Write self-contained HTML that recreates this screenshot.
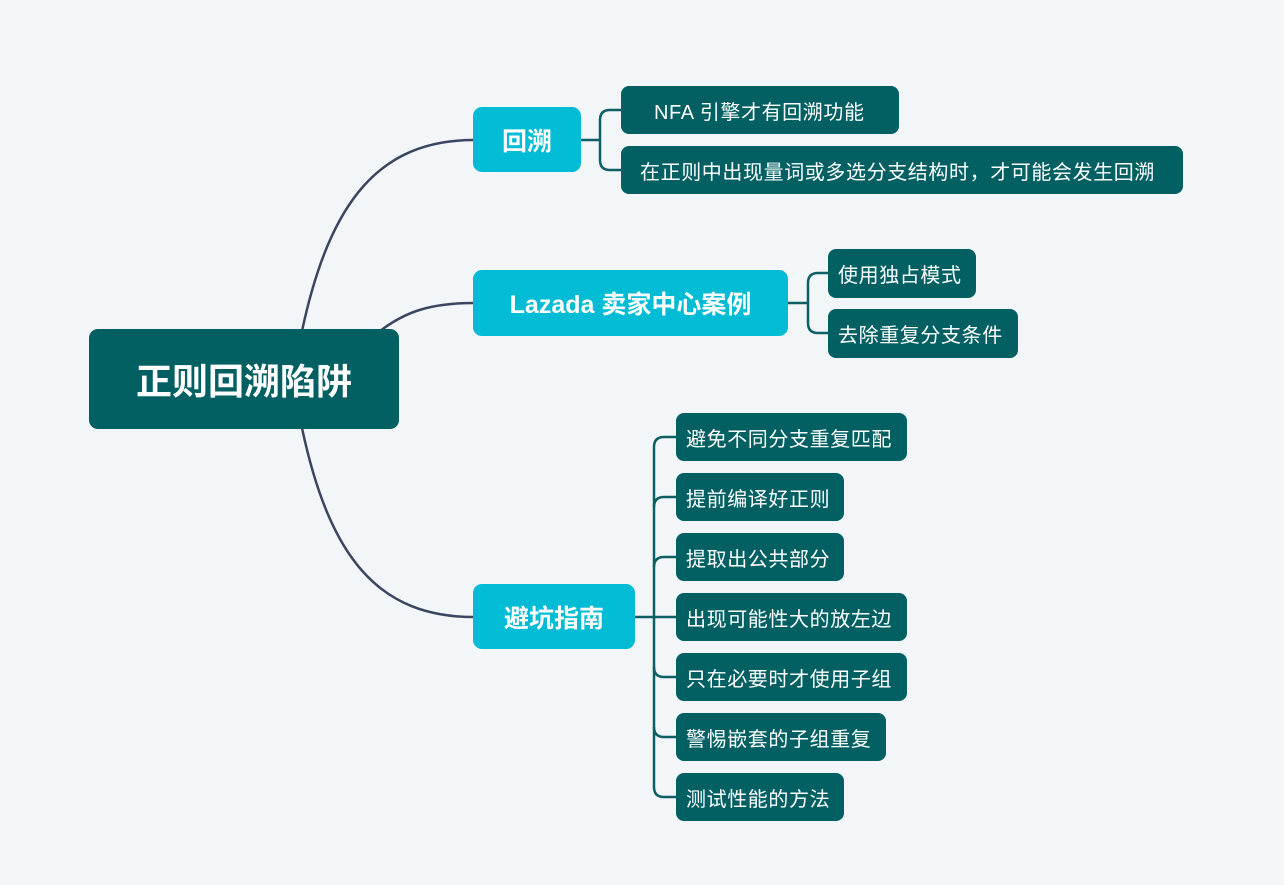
<!DOCTYPE html>
<html><head><meta charset="utf-8"><style>
body{margin:0;width:1284px;height:885px;background:#f2f6f9;position:relative;overflow:hidden;font-family:"Liberation Sans","Noto Sans CJK SC",sans-serif}
.n{position:absolute;box-sizing:border-box;color:#fff;display:flex;align-items:center;border-radius:9px;white-space:nowrap}
.r{background:#026063;font-size:36px;font-weight:bold;justify-content:center}
.l1{background:#02bbd4;font-size:25px;font-weight:bold;justify-content:center}
.lf{background:#026063;font-size:20px;letter-spacing:0.6px;padding-left:10px;border-radius:8px}
svg{position:absolute;left:0;top:0}
</style></head><body>
<svg width="1284" height="885" fill="none">
<g stroke="#3a4660" stroke-width="2.5">
<path d="M302 331 C330 200 380 140 474 140"/>
<path d="M380 331 C405 312 430 303 474 303"/>
<path d="M302 428 C330 560 380 617 474 617"/>
</g>
<g stroke="#0d5f63" stroke-width="2.5">
<path d="M581 140 H600 M621 110 H610 Q600 110 600 120 V160 Q600 170 610 170 H621"/>
<path d="M788 303 H808 M828 273 H818 Q808 273 808 283 V323 Q808 333 818 333 H828"/>
<path d="M635 617 H676 M676 437 H664 Q654 437 654 447 V787 Q654 797 664 797 H676"/>
<path d="M654 507 Q654 497 664 497 H676 M654 567 Q654 557 664 557 H676 M654 667 Q654 677 664 677 H676 M654 727 Q654 737 664 737 H676"/>
</g>
</svg>
<div class="n r" style="left:89px;top:329px;width:310px;height:100px">正则回溯陷阱</div>
<div class="n l1" style="left:473px;top:107px;width:108px;height:65px">回溯</div>
<div class="n l1" style="left:473px;top:270px;width:315px;height:66px">Lazada 卖家中心案例</div>
<div class="n l1" style="left:473px;top:584px;width:162px;height:65px">避坑指南</div>
<div class="n lf" style="left:621px;top:86px;width:278px;height:48px;padding-left:33px">NFA 引擎才有回溯功能</div>
<div class="n lf" style="left:621px;top:146px;width:562px;height:48px;padding-left:19px">在正则中出现量词或多选分支结构时，才可能会发生回溯</div>
<div class="n lf" style="left:828px;top:249px;width:148px;height:49px">使用独占模式</div>
<div class="n lf" style="left:828px;top:309px;width:190px;height:49px">去除重复分支条件</div>
<div class="n lf" style="left:676px;top:413px;width:231px;height:48px">避免不同分支重复匹配</div>
<div class="n lf" style="left:676px;top:473px;width:168px;height:48px">提前编译好正则</div>
<div class="n lf" style="left:676px;top:533px;width:168px;height:48px">提取出公共部分</div>
<div class="n lf" style="left:676px;top:593px;width:231px;height:48px">出现可能性大的放左边</div>
<div class="n lf" style="left:676px;top:653px;width:231px;height:48px">只在必要时才使用子组</div>
<div class="n lf" style="left:676px;top:713px;width:210px;height:48px">警惕嵌套的子组重复</div>
<div class="n lf" style="left:676px;top:773px;width:168px;height:48px">测试性能的方法</div>
</body></html>
